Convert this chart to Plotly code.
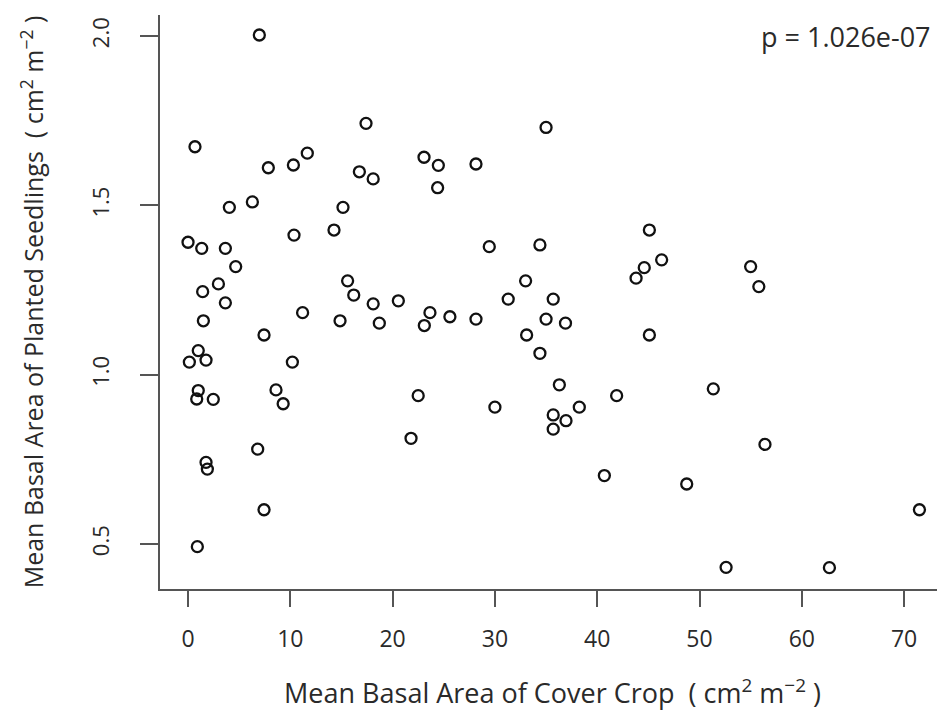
import plotly.graph_objects as go

cover_crop = [6.97, 17.4, 0.68, 11.66, 7.85, 10.3, 23.07, 24.47, 24.4, 16.75,
              18.1, 4.04, 6.29, 15.15, 14.27, 10.36, 0.0, 1.34, 3.65, 4.66,
              2.97, 1.43, 3.65, 15.6, 16.2, 18.1, 20.56, 1.5, 11.2, 14.86,
              18.7, 23.65, 25.6, 23.1, 7.43, 1.0, 0.13, 1.76, 10.2, 1.0,
              0.85, 2.47, 8.6, 9.3, 22.5, 21.8, 6.81, 1.76, 1.89, 7.43,
              0.91, 35.0, 28.15, 45.1, 29.45, 34.4, 46.3, 44.6, 43.8, 33.0,
              31.3, 35.7, 28.15, 35.0, 36.9, 45.1, 33.1, 34.4, 36.3, 30.0,
              38.25, 41.9, 51.35, 35.7, 36.95, 35.7, 56.4, 40.7, 48.75, 52.6,
              55.0, 55.8, 71.5, 62.7]
seedlings = [2.003, 1.742, 1.673, 1.654, 1.611, 1.619, 1.642, 1.618, 1.552, 1.599,
             1.578, 1.494, 1.510, 1.494, 1.427, 1.412, 1.391, 1.373, 1.373, 1.319,
             1.268, 1.245, 1.212, 1.277, 1.235, 1.209, 1.218, 1.159, 1.183, 1.159,
             1.152, 1.183, 1.171, 1.145, 1.117, 1.071, 1.037, 1.043, 1.037, 0.953,
             0.928, 0.927, 0.955, 0.914, 0.938, 0.812, 0.780, 0.741, 0.721, 0.601,
             0.492, 1.730, 1.622, 1.427, 1.378, 1.383, 1.339, 1.316, 1.285, 1.277,
             1.223, 1.223, 1.164, 1.164, 1.152, 1.117, 1.117, 1.063, 0.970, 0.904,
             0.904, 0.938, 0.958, 0.881, 0.864, 0.839, 0.794, 0.702, 0.677, 0.431,
             1.319, 1.260, 0.601, 0.430]

x_ticks = [0, 10, 20, 30, 40, 50, 60, 70]
y_ticks = [0.5, 1.0, 1.5, 2.0]
y_tick_labels = ["0.5", "1.0", "1.5", "2.0"]
p_label = "p = 1.026e-07"

FONT = "Open Sans"
TXT = "#2a2a2a"
AX = "#555555"

fig = go.Figure()
fig.add_trace(go.Scatter(
    x=cover_crop, y=seedlings, mode="markers",
    marker=dict(symbol="circle-open", size=11, color="#111111",
                line=dict(width=2.3, color="#111111")),
    showlegend=False, hoverinfo="x+y"))

fig.add_annotation(text=p_label, xref="paper", yref="paper",
                   x=0.985, y=0.962, xanchor="right", yanchor="middle",
                   showarrow=False, font=dict(family=FONT, size=27, color=TXT))

fig.update_layout(
    width=937, height=703,
    margin=dict(l=152, r=0, t=7, b=122),
    paper_bgcolor="white", plot_bgcolor="white",
    font=dict(family=FONT, color=TXT),
    xaxis=dict(
        range=[-2.74, 74.0], tickvals=x_ticks, ticktext=[str(v) for v in x_ticks],
        showgrid=False, zeroline=False, showline=True, linecolor=AX, linewidth=2,
        ticks="outside", ticklen=16, tickwidth=2, tickcolor=AX,
        ticklabelstandoff=12,
        tickfont=dict(family=FONT, size=23, color=TXT),
        title=dict(text="Mean Basal Area of Cover Crop\u00a0\u00a0( cm<sup>2</sup> m<sup>\u22122</sup> )",
                   font=dict(family=FONT, size=27, color=TXT), standoff=34),
    ),
    yaxis=dict(
        range=[0.367, 2.062], tickvals=y_ticks, ticktext=y_tick_labels,
        showgrid=False, zeroline=False, showline=True, linecolor=AX, linewidth=2,
        ticks="outside", ticklen=18, tickwidth=2, tickcolor=AX, tickangle=-90,
        ticklabelstandoff=22,
        tickfont=dict(family=FONT, size=22, color=TXT),
        title=dict(text="Mean Basal Area of Planted Seedlings\u00a0\u00a0( cm<sup>2</sup> m<sup>\u22122</sup> )",
                   font=dict(family=FONT, size=25, color=TXT), standoff=34),
    ),
)

fig.write_html("out.html")
